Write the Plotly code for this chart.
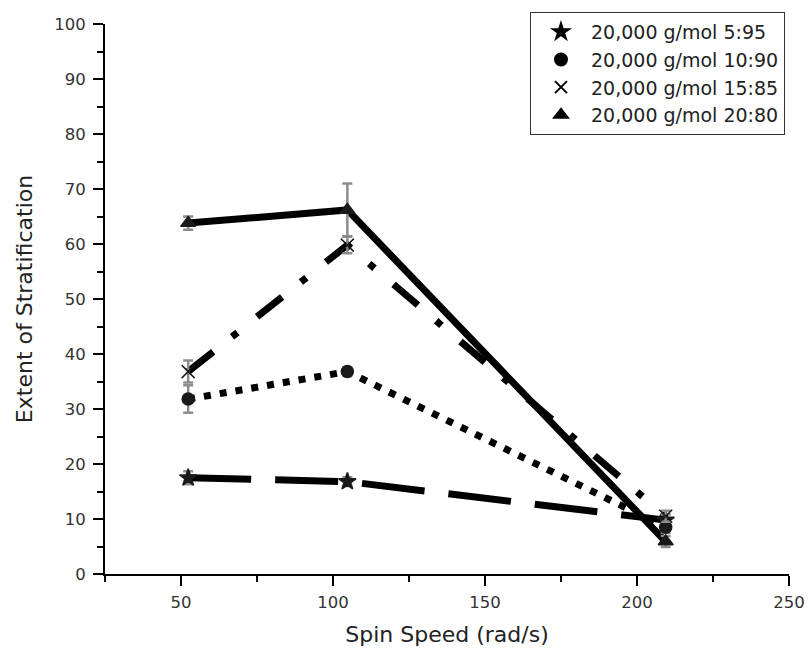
import plotly.graph_objects as go

# Data
spin_speed = [52.36, 104.72, 209.44]
names = ["20,000 g/mol 5:95", "20,000 g/mol 10:90", "20,000 g/mol 15:85", "20,000 g/mol 20:80"]
y_5_95 = [17.5, 16.8, 9.8]
e_5_95 = [1.2, 0.8, 1.0]
y_10_90 = [31.8, 36.8, 8.5]
e_10_90 = [2.5, 0.8, 1.0]
y_15_85 = [36.8, 59.8, 10.5]
e_15_85 = [2.0, 1.5, 1.0]
y_20_80 = [63.8, 66.2, 5.9]
e_20_80 = [1.2, 4.8, 1.0]

series = [
    (names[0], y_5_95, e_5_95, "star", "63px,24px", 13),
    (names[1], y_10_90, e_10_90, "circle", "7px,9px", 12),
    (names[2], y_15_85, e_15_85, "x-thin-open", "32px,24px,7px,25px", 13),
    (names[3], y_20_80, e_20_80, "triangle-up", "solid", 13),
]

FONT = "DejaVu Sans, Liberation Sans, Arial, sans-serif"
fig = go.Figure()

# lines
for name, ys, es, sym, dash, sz in series:
    fig.add_trace(go.Scatter(
        x=spin_speed, y=ys, mode="lines",
        line=dict(color="black", width=7, dash=dash),
        showlegend=False, hoverinfo="skip"))

# markers with error bars
for name, ys, es, sym, dash, sz in series:
    fig.add_trace(go.Scatter(
        x=spin_speed, y=ys, mode="markers",
        marker=dict(symbol=sym, size=sz, color="#1a1a1a",
                    line=dict(color="#1a1a1a", width=1.5)),
        error_y=dict(type="data", array=es, visible=True,
                     color="#8c8c8c", thickness=2.5, width=5),
        showlegend=False))

# legend entries
for name, ys, es, sym, dash, sz in series:
    fig.add_trace(go.Scatter(
        x=[None], y=[None], mode="markers", name=name,
        marker=dict(symbol=sym, size=14, color="black",
                    line=dict(color="black", width=1.2))))

axis_common = dict(
    showline=True, linewidth=2, linecolor="black",
    ticks="outside", ticklen=10, tickwidth=2, tickcolor="black",
    showgrid=False, zeroline=False, mirror=False, automargin=False,
    tickfont=dict(family=FONT, size=16.5, color="#333333"),
)

fig.update_layout(
    width=809, height=657,
    margin=dict(l=105, r=20, t=24, b=83),
    paper_bgcolor="white", plot_bgcolor="white",
    font=dict(family=FONT),
    xaxis=dict(range=[25, 250], tickmode="linear", tick0=50, dtick=50,
               minor=dict(ticks="outside", ticklen=6, tickwidth=2, tickcolor="black", dtick=25, tick0=25),
               title=dict(text="Spin Speed (rad/s)", font=dict(family=FONT, size=22, color="#222222"), standoff=16),
               ticklabelstandoff=2,
               **axis_common),
    yaxis=dict(range=[0, 100], tickmode="linear", tick0=0, dtick=10,
               minor=dict(ticks="outside", ticklen=6, tickwidth=2, tickcolor="black", dtick=5, tick0=5),
               title=dict(text="Extent of Stratification", font=dict(family=FONT, size=22, color="#222222"), standoff=16),
               ticklabelstandoff=4,
               **axis_common),
    legend=dict(x=(530 - 105) / 684, y=1.022, xanchor="left", yanchor="top",
                bordercolor="#333333", borderwidth=1, bgcolor="white",
                font=dict(family=FONT, size=19, color="#222222"),
                tracegroupgap=0, itemsizing="constant", itemwidth=50),
)

fig.write_html("out.html")
